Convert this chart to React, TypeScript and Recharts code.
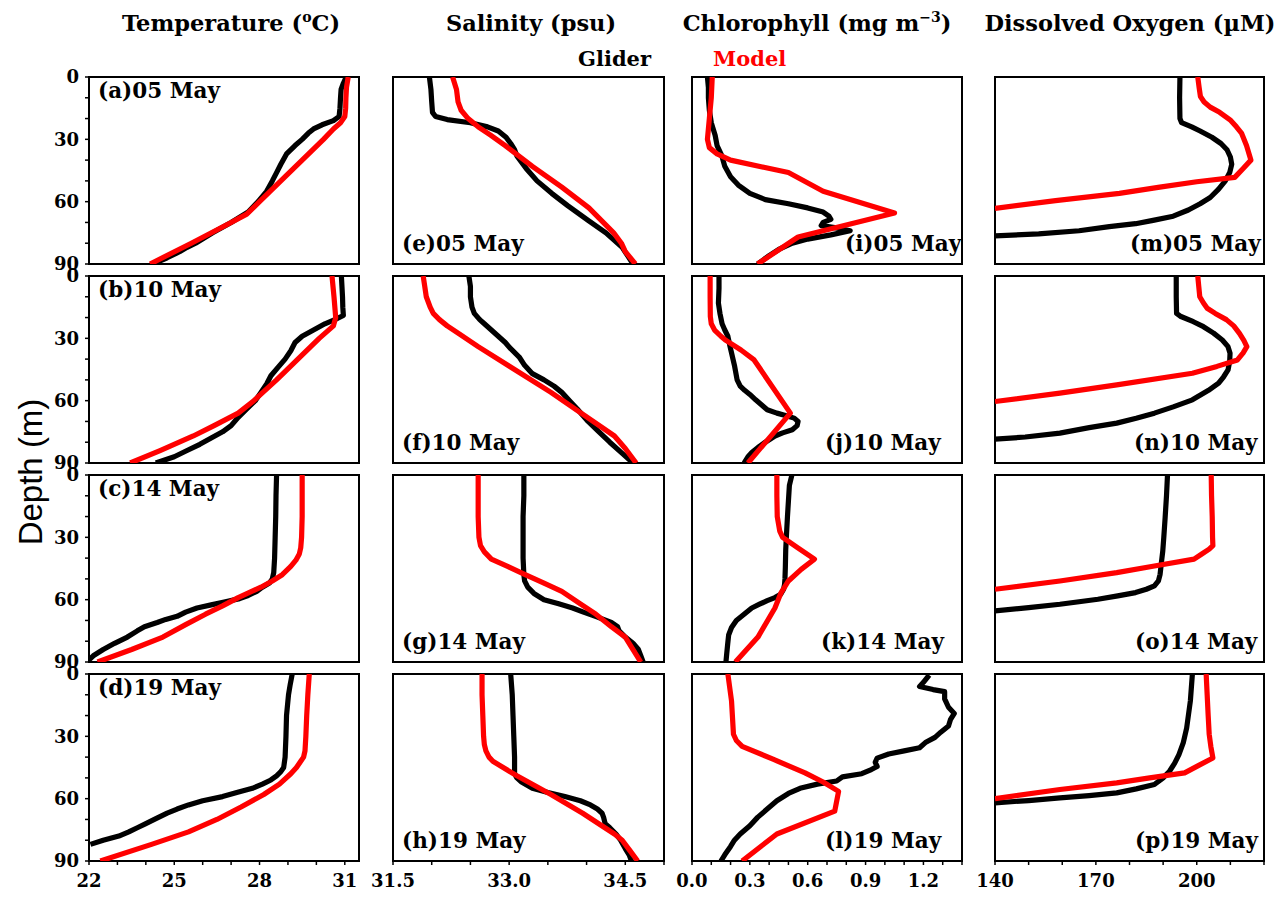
import React from 'react';
import { ScatterChart, Scatter, XAxis, YAxis } from 'recharts';

// each profile is a list of [depth (m), value]
type Pt = [number, number];

// ---- Temperature (°C) ----
const tempGlider05: Pt[] = [[0,31.05],[3,30.95],[6,30.87],[10,30.85],[15,30.83],[19,30.8],[21,30.6],[23,30.2],[25,29.9],[27,29.72],[30,29.5],[33,29.25],[37,28.95],[42,28.75],[46,28.6],[50,28.45],[55,28.25],[60,27.95],[65,27.6],[70,27.0],[75,26.35],[80,25.75],[82,25.45],[84,25.2],[87,24.75],[90,24.25]];
const tempModel05: Pt[] = [[0,31.12],[5,31.06],[10,31.04],[15,31.03],[19,31.0],[22,30.85],[25,30.6],[30,30.25],[40,29.5],[50,28.75],[60,28.0],[66,27.55],[70,27.0],[80,25.6],[90,24.15]];
const tempGlider10: Pt[] = [[0,30.88],[5,30.9],[10,30.92],[15,30.93],[19,30.95],[21,30.65],[23,30.3],[26,29.9],[29,29.5],[32,29.25],[36,29.1],[40,28.9],[44,28.65],[48,28.4],[52,28.25],[56,28.05],[60,27.85],[64,27.55],[68,27.25],[72,27.0],[75,26.7],[78,26.3],[81,25.9],[84,25.45],[87,25.0],[90,24.35]];
const tempModel10: Pt[] = [[0,30.55],[10,30.62],[20,30.68],[24,30.6],[30,30.1],[40,29.35],[50,28.6],[60,27.8],[66,27.25],[72,26.4],[77,25.67],[84,24.5],[90,23.45]];
const tempGlider14: Pt[] = [[0,28.6],[10,28.58],[20,28.57],[30,28.55],[40,28.53],[47,28.5],[50,28.45],[52,28.35],[54,28.1],[56,27.9],[58,27.6],[59.5,27.3],[61,26.8],[62.5,26.3],[64,25.8],[66,25.4],[68,25.1],[69.5,24.7],[71,24.4],[73,23.95],[75,23.7],[78,23.35],[81,22.9],[84,22.5],[87,22.15],[89,22.0]];
const tempModel14: Pt[] = [[0,29.5],[10,29.5],[20,29.5],[30,29.48],[35,29.45],[38,29.4],[41,29.28],[44,29.1],[48,28.8],[51,28.45],[54,28.05],[59,27.25],[63,26.7],[67,26.1],[72,25.4],[78,24.6],[84,23.5],[90,22.3]];
const tempGlider19: Pt[] = [[0,29.15],[5,29.08],[10,29.02],[20,28.95],[30,28.93],[40,28.9],[45,28.85],[47,28.75],[49,28.6],[51,28.4],[53,28.1],[55,27.75],[57,27.2],[59,26.7],[61,26.0],[63,25.5],[65,25.1],[67,24.75],[70,24.3],[72,24.0],[74,23.7],[76,23.4],[78,23.05],[80,22.5],[82,22.05]];
const tempModel19: Pt[] = [[0,29.75],[10,29.7],[20,29.66],[30,29.63],[37,29.6],[40,29.55],[42,29.45],[45,29.3],[48,29.1],[53,28.7],[58,28.15],[64,27.35],[70,26.5],[76,25.5],[82,24.2],[90,22.4]];

// ---- Salinity (psu) ----
const salGlider05: Pt[] = [[0,31.97],[6,31.99],[12,32.0],[17,32.01],[19,32.05],[20.5,32.2],[22,32.5],[24,32.72],[26,32.86],[29,32.96],[32,33.02],[35,33.07],[38,33.1],[41,33.16],[44,33.22],[50,33.36],[56,33.55],[62,33.76],[69,34.02],[75,34.25],[82,34.46],[86,34.53],[90,34.6]];
const salModel05: Pt[] = [[0,32.27],[6,32.32],[12,32.34],[16,32.38],[20,32.47],[24,32.6],[28,32.76],[33,32.95],[43,33.3],[53,33.68],[63,34.03],[75,34.35],[80,34.45],[84,34.5],[90,34.63]];
const salGlider10: Pt[] = [[0,32.48],[5,32.5],[10,32.5],[15,32.52],[18,32.55],[21,32.62],[23,32.68],[26,32.77],[29,32.86],[32,32.95],[35,33.02],[39,33.13],[43,33.2],[47,33.3],[50,33.45],[53,33.58],[56,33.68],[60,33.78],[64,33.88],[70,34.02],[75,34.16],[80,34.3],[85,34.45],[90,34.6]];
const salModel10: Pt[] = [[0,31.89],[5,31.91],[10,31.93],[15,31.98],[18,32.02],[21,32.1],[24,32.2],[28,32.36],[34,32.6],[45,33.07],[56,33.54],[66,33.93],[77,34.36],[83,34.5],[90,34.64]];
const salGlider14: Pt[] = [[0,33.19],[10,33.19],[20,33.18],[30,33.18],[40,33.18],[48,33.19],[51,33.2],[54,33.24],[57,33.32],[60,33.45],[62,33.64],[64,33.82],[66,33.96],[68.5,34.15],[71,34.32],[73,34.4],[75,34.42],[78,34.5],[81,34.6],[84,34.67],[87,34.7],[90,34.73]];
const salModel14: Pt[] = [[0,32.6],[10,32.6],[20,32.6],[30,32.61],[34,32.63],[37,32.68],[40.5,32.77],[44,32.98],[47.8,33.2],[52,33.45],[56,33.68],[62,33.92],[67,34.12],[73,34.32],[78,34.5],[84,34.6],[90,34.7]];
const salGlider19: Pt[] = [[0,33.02],[10,33.04],[20,33.05],[30,33.06],[40,33.07],[48,33.07],[50,33.1],[52,33.16],[55,33.3],[57,33.5],[59,33.72],[61,33.92],[63,34.05],[65,34.14],[67,34.2],[69,34.22],[72,34.24],[74,34.3],[77,34.38],[80,34.44],[84,34.5],[87,34.55],[90,34.58]];
const salModel19: Pt[] = [[0,32.65],[10,32.65],[20,32.66],[30,32.67],[34,32.68],[37,32.7],[40,32.74],[42,32.79],[49,33.1],[58,33.54],[67,33.95],[77,34.36],[80,34.46],[85,34.56],[90,34.66]];

// ---- Chlorophyll (mg m-3) ----
const chlGlider05: Pt[] = [[0,0.08],[5,0.085],[10,0.085],[16,0.09],[22,0.1],[28,0.12],[33,0.13],[38,0.155],[43,0.17],[48,0.2],[52,0.24],[56,0.3],[59,0.38],[61,0.5],[63,0.6],[65,0.68],[67,0.71],[68.5,0.72],[70,0.68],[71.5,0.67],[72.5,0.74],[74,0.82],[76,0.72],[78,0.6],[80,0.52],[83,0.45],[86,0.4],[90,0.34]];
const chlModel05: Pt[] = [[0,0.105],[10,0.1],[20,0.09],[30,0.08],[34,0.09],[37,0.13],[40,0.2],[46,0.5],[55,0.68],[65.5,1.05],[77,0.55],[90,0.34]];
const chlGlider10: Pt[] = [[0,0.14],[6,0.14],[13,0.137],[18,0.145],[23,0.156],[26,0.17],[29,0.186],[33,0.195],[37,0.205],[43,0.22],[50,0.234],[53,0.25],[55,0.273],[57,0.3],[59.6,0.33],[62,0.36],[64.4,0.39],[66,0.44],[67,0.48],[68.4,0.53],[70,0.55],[72,0.545],[74,0.52],[75.5,0.47],[77,0.43],[80,0.38],[82,0.35],[85,0.31],[87,0.29],[90,0.27]];
const chlModel10: Pt[] = [[0,0.094],[10,0.094],[19.5,0.095],[23,0.1],[26,0.117],[29,0.15],[31,0.176],[35.6,0.254],[40.4,0.322],[66,0.51],[90,0.29]];
const chlGlider14: Pt[] = [[0,0.518],[5,0.505],[12.5,0.5],[20,0.495],[28.5,0.49],[36,0.486],[44.5,0.484],[50,0.482],[52.6,0.48],[55,0.475],[57.4,0.46],[59,0.43],[60.5,0.39],[62.2,0.35],[64,0.31],[67,0.27],[70,0.23],[73.4,0.205],[77,0.19],[81.4,0.185],[86,0.18],[90,0.176]];
const chlModel14: Pt[] = [[0,0.44],[10,0.44],[20,0.442],[27,0.455],[30,0.47],[35,0.547],[40.5,0.635],[45.4,0.566],[51,0.5],[57,0.46],[64,0.43],[78,0.342],[90,0.225]];
const chlGlider19: Pt[] = [[0.5,1.23],[4,1.2],[6,1.18],[7.5,1.25],[8.5,1.31],[12,1.31],[16,1.33],[19,1.36],[22,1.34],[25,1.33],[28,1.29],[30.5,1.26],[33,1.21],[35.5,1.18],[37,1.1],[38.5,1.02],[40.5,0.96],[42.5,0.95],[44.5,0.96],[46,0.93],[48,0.88],[49.5,0.78],[51.5,0.75],[53,0.65],[55,0.56],[57.5,0.5],[61,0.44],[65,0.39],[69,0.34],[73,0.3],[77,0.25],[80,0.22],[83,0.2],[87,0.17],[90,0.15]];
const chlModel19: Pt[] = [[0,0.186],[13,0.205],[29,0.215],[32,0.23],[34.8,0.26],[41,0.42],[47.6,0.586],[52,0.68],[56.5,0.76],[66,0.74],[77,0.44],[90,0.26]];

// ---- Dissolved Oxygen (uM) ----
const doGlider05: Pt[] = [[0,195],[10,194.9],[20,195],[22,195.5],[24,198.5],[26,201],[29,204.5],[32,207.2],[35,209],[38.5,210],[42,210.4],[46,209.8],[50,208.5],[54,206.5],[58,204],[61,201],[64,197.5],[67,193],[69,187],[70.6,181.8],[72,174],[74,165],[75.5,153],[76.5,140]];
const doModel05: Pt[] = [[0,200.3],[5,200.7],[9.4,201.1],[12,202.2],[14.5,204],[17,206.8],[20.6,209.9],[24,211.8],[27,213.3],[33,214.8],[40,216.1],[44,213.8],[48.3,211.3],[50.4,200],[53,189],[56,177],[59.5,158],[63.2,140]];
const doGlider10: Pt[] = [[0,193.9],[10,193.9],[18,194],[19.5,195.3],[22,199],[24.4,202],[27.5,205],[30.8,207.6],[34,209.3],[37.2,209.9],[41,209.8],[45.2,209.3],[48.5,208],[51.6,206.5],[55,203.5],[59.6,198.7],[63,193],[66,187.4],[68.5,182],[70.8,176.2],[73,168],[75.6,159.3],[77.5,149],[78.5,140]];
const doModel10: Pt[] = [[0,200.3],[5,200.6],[10,200.9],[13,202],[15.5,203.1],[18,205.5],[21,208.8],[24,211],[27.6,212.7],[31,214],[34,214.9],[37,213.8],[40.4,212.1],[43.5,206],[46.8,198.7],[52.4,176.2],[56.4,159.3],[60.4,140]];
const doGlider14: Pt[] = [[0,191.3],[10,191],[20.5,190.6],[30,190.2],[36.5,189.9],[42,189.5],[47.8,189.1],[51,188.6],[53.4,187.4],[55,185],[56.6,181.8],[58.2,176.5],[59.8,170.6],[61,165],[62.2,159.3],[63.8,150],[65.4,140]];
const doModel14: Pt[] = [[0,204.3],[10,204.4],[20,204.6],[30,204.7],[34,204.8],[35.7,203.7],[38,201.5],[40.5,199.2],[43.8,187.4],[47,176.2],[51,159.3],[55,140]];
const doGlider19: Pt[] = [[0,198.7],[13,198.1],[26,197],[33,196],[38.8,194.7],[43,193.4],[46.8,191.9],[50,190],[53.2,187.4],[55.3,182],[57.2,176.2],[58.5,168],[59.6,159.3],[60.9,150],[62,140]];
const doModel19: Pt[] = [[0,202.8],[10,203.1],[20,203.4],[29,203.7],[35,204.2],[40.4,204.8],[44,200.6],[47.6,196.4],[50,186],[52.4,176.2],[55.6,159.3],[60,140]];

// tick labels
const tempLabels = [22, 25, 28, 31];
const salLabels = [31.5, 33.0, 34.5];
const chlLabels = [0, 0.3, 0.6, 0.9, 1.2];
const doLabels = [140, 170, 200];
const depthLabels = [0, 30, 60, 90];
const dates = ['05 May', '10 May', '14 May', '19 May'];
const letters = ['abcd', 'efgh', 'ijkl', 'mnop'];

function steps(lo: number, hi: number, step: number) {
  const out: number[] = [];
  const n = Math.round((hi - lo) / step);
  for (let i = 0; i <= n; i++) out.push(+(lo + i * step).toFixed(4));
  return out;
}

const COLS = [
  { domain: [22, 31.5], minor: steps(22, 31, 1), labels: tempLabels, fmt: (v: number) => String(v), x: 89, w: 270, profiles: [[tempGlider05, tempModel05], [tempGlider10, tempModel10], [tempGlider14, tempModel14], [tempGlider19, tempModel19]] },
  { domain: [31.5, 35], minor: steps(31.5, 35, 0.5), labels: salLabels, fmt: (v: number) => v.toFixed(1), x: 393, w: 271, profiles: [[salGlider05, salModel05], [salGlider10, salModel10], [salGlider14, salModel14], [salGlider19, salModel19]] },
  { domain: [0, 1.4], minor: steps(0, 1.4, 0.1), labels: chlLabels, fmt: (v: number) => v.toFixed(1), x: 692, w: 270, profiles: [[chlGlider05, chlModel05], [chlGlider10, chlModel10], [chlGlider14, chlModel14], [chlGlider19, chlModel19]] },
  { domain: [140, 220], minor: steps(140, 220, 10), labels: doLabels, fmt: (v: number) => String(v), x: 995, w: 269, profiles: [[doGlider05, doModel05], [doGlider10, doModel10], [doGlider14, doModel14], [doGlider19, doModel19]] },
];
const ROW_Y = [77, 276, 475, 674];
const ROW_H = 187;
const PAD = 46;
const depthMinor = steps(0, 90, 10);

// where the panel tags sit (x of text start; top-left for col 1, bottom for others)
const TAG_X = [
  [98, 98, 98, 98],
  [402, 402, 402, 402],
  [845, 825, 821, 825],
  [1130, 1134, 1135, 1135],
];

const SERIF = '"DejaVu Serif", serif';
const tickFont = { fill: '#000', fontSize: 18, fontFamily: SERIF, fontWeight: 'bold' as const };
const axisLine = { stroke: '#000', strokeWidth: 2, strokeLinecap: 'square' as const };
const tickLine = { stroke: '#000', strokeWidth: 1.5 };
const LINE_W = 5.2;

const NoDot = () => <g />;

const isLabel = (labels: number[], v: number) => labels.some((m) => Math.abs(m - v) < 1e-6);

function Panel({ col, row }: { col: number; row: number }) {
  const c = COLS[col];
  const [glider, model] = c.profiles[row];
  const gData = glider.map(([d, v]) => ({ d, v }));
  const mData = model.map(([d, v]) => ({ d, v }));
  const showX = row === 3;
  const showY = col === 0;
  return (
    <div style={{ position: 'absolute', left: c.x - PAD, top: ROW_Y[row] - PAD }}>
      <ScatterChart width={c.w + 2 * PAD} height={ROW_H + 2 * PAD} margin={{ top: 0, right: 0, bottom: 0, left: 0 }}>
        <XAxis
          xAxisId="b"
          type="number"
          dataKey="v"
          orientation="bottom"
          height={PAD}
          domain={c.domain}
          allowDataOverflow
          ticks={c.minor}
          interval={0}
          tickSize={4}
          tickMargin={9}
          axisLine={axisLine}
          tickLine={tickLine}
          tick={showX ? tickFont : false}
          tickFormatter={(v: number) => (isLabel(c.labels, v) ? c.fmt(v) : '')}
        />
        <XAxis
          xAxisId="t"
          type="number"
          orientation="top"
          height={PAD}
          domain={c.domain}
          allowDataOverflow
          ticks={c.minor}
          interval={0}
          tickSize={4}
          axisLine={axisLine}
          tickLine={tickLine}
          tick={false}
        />
        <YAxis
          yAxisId="l"
          type="number"
          dataKey="d"
          width={PAD}
          reversed
          domain={[0, 90]}
          allowDataOverflow
          ticks={depthMinor}
          interval={0}
          tickSize={4}
          tickMargin={6}
          axisLine={axisLine}
          tickLine={tickLine}
          tick={showY ? tickFont : false}
          tickFormatter={(v: number) => (isLabel(depthLabels, v) ? String(v) : '')}
        />
        <YAxis
          yAxisId="r"
          type="number"
          orientation="right"
          width={PAD}
          reversed
          domain={[0, 90]}
          allowDataOverflow
          ticks={depthMinor}
          interval={0}
          tickSize={4}
          axisLine={axisLine}
          tickLine={tickLine}
          tick={false}
        />
        <Scatter
          xAxisId="b"
          yAxisId="l"
          data={gData}
          fill="#000"
          line={{ stroke: '#000', strokeWidth: LINE_W, strokeLinejoin: 'round' }}
          lineType="joint"
          shape={NoDot}
          isAnimationActive={false}
        />
        <Scatter
          xAxisId="b"
          yAxisId="l"
          data={mData}
          fill="#ff0000"
          line={{ stroke: '#ff0000', strokeWidth: LINE_W, strokeLinejoin: 'round' }}
          lineType="joint"
          shape={NoDot}
          isAnimationActive={false}
        />
      </ScatterChart>
    </div>
  );
}

const titles = [
  { cx: 231, parts: ['Temperature (', 'o', 'C)'] },
  { cx: 531, parts: ['Salinity (psu)'] },
  { cx: 817, parts: ['Chlorophyll (mg m', '−3', ')'] },
  { cx: 1130, parts: ['Dissolved Oxygen (µM)'] },
];

export default function App() {
  const cells: JSX.Element[] = [];
  for (let col = 0; col < 4; col++) for (let row = 0; row < 4; row++) cells.push(<Panel key={`${col}-${row}`} col={col} row={row} />);

  return (
    <div style={{ position: 'relative', width: 1288, height: 898, margin: -8, background: '#fff', overflow: 'hidden' }}>
      {cells}
      <svg width={1288} height={898} style={{ position: 'absolute', left: 0, top: 0, pointerEvents: 'none' }}>
        {titles.map((t, i) => (
          <text key={i} x={t.cx} y={31} textAnchor="middle" fontFamily={SERIF} fontWeight="bold" fontSize={22.5} fill="#000">
            {t.parts.length === 1 ? t.parts[0] : (
              <>
                <tspan>{t.parts[0]}</tspan>
                <tspan fontSize={14} dy={-9}>{t.parts[1]}</tspan>
                <tspan dy={9}>{t.parts[2]}</tspan>
              </>
            )}
          </text>
        ))}
        <text x={578} y={66} fontFamily={SERIF} fontWeight="bold" fontSize={21} fill="#000">Glider</text>
        <text x={713} y={66} fontFamily={SERIF} fontWeight="bold" fontSize={21} fill="#ff0000">Model</text>
        <text
          x={30}
          y={472}
          transform="rotate(-90 30 472)"
          textAnchor="middle"
          dominantBaseline="central"
          fontFamily='"Liberation Sans", Arial, sans-serif'
          fontSize={33}
          fill="#000"
        >
          Depth (m)
        </text>
        {letters.map((ls, col) =>
          ls.split('').map((l, row) => {
            const y = col === 0 ? ROW_Y[row] + 21 : ROW_Y[row] + ROW_H - 13;
            return (
              <text key={l} x={TAG_X[col][row]} y={y} fontFamily={SERIF} fontWeight="bold" fontSize={21.5} fill="#000" style={{ whiteSpace: 'pre' }}>
                {`(${l})${dates[row]}`}
              </text>
            );
          })
        )}
      </svg>
    </div>
  );
}
